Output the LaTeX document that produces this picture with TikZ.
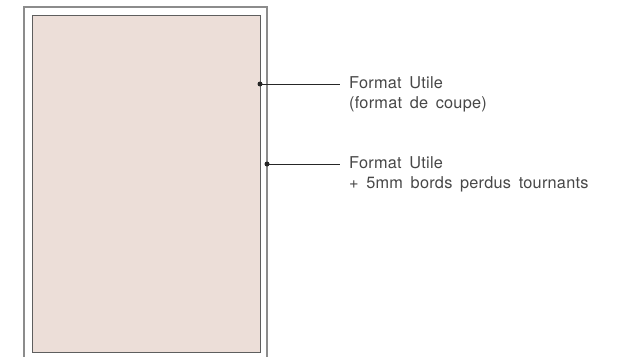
\documentclass[tikz,border=0pt]{standalone}
\usepackage{fontspec}
\setmainfont[WordSpace=1.6, LetterSpace=1.5]{TeX Gyre Heros}
\usetikzlibrary{positioning, calc}

\definecolor{paper}{HTML}{ECDED8}
\definecolor{trim}{HTML}{5E5E5E}
\definecolor{bleed}{HTML}{8C8C8C}
\definecolor{txt}{HTML}{474747}

\tikzset{
  callout/.style={draw=black!85, line width=0.9pt},
  dotmark/.style={circle, fill=black!85, inner sep=0pt, minimum size=5pt},
  lbl/.style={anchor=north west, inner sep=0pt, align=left, text=txt,
              font=\fontsize{16.3}{20.5}\selectfont},
}

\begin{document}
\begin{tikzpicture}[x=1pt, y=-1pt]
  \useasboundingbox (0,0) rectangle (634,356);

  % Formats
  \draw[bleed, line width=1.2pt] (24,360) -- (24,7) -- (267,7) -- (267,360);
  \draw[trim, fill=paper, line width=1pt] (32,15) rectangle (260,352);

  % Nodes
  \node[dotmark] (cut) at (260,84) {};
  \node[dotmark] (bleedpt) at (267,164) {};
  \node[lbl] (cutlbl) at (349,76.3) {Format Utile\\(format de coupe)};
  \node[lbl] (bleedlbl) at (349,156.3) {Format Utile\\+ 5mm bords perdus tournants};

  % Lines
  \foreach \p/\l in {cut/cutlbl, bleedpt/bleedlbl}
    \draw[callout] (\p.center) -- ([xshift=-9pt]\l.west |- \p.center);
\end{tikzpicture}
\end{document}
